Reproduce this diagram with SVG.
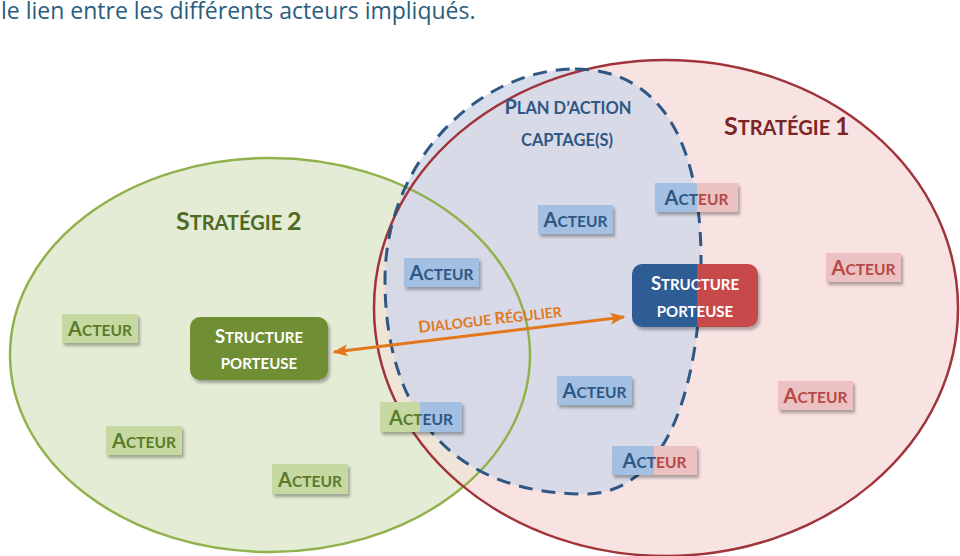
<svg xmlns="http://www.w3.org/2000/svg" width="960" height="556" viewBox="0 0 960 556">
<defs>
<style>
.lbl{font-family:Lato,"Open Sans","Liberation Sans",sans-serif;font-weight:bold;}
.big{font-size:20px}
.sm{font-size:15.5px}
.box{filter:url(#sh)}
.tb{fill:#2f5783}.tg{fill:#5b7b2c}.tr{fill:#b54848}
.fb{fill:#a3bfe2}.fg{fill:#c6d9a2}.fr{fill:#ecc1c1}
</style>
<filter id="sh" x="-20%" y="-20%" width="150%" height="160%">
<feDropShadow dx="2" dy="3" stdDeviation="1.8" flood-color="#000" flood-opacity="0.3"/>
</filter>
<clipPath id="redclip"><ellipse cx="666" cy="308" rx="292" ry="248"/></clipPath>
<path id="plan" d="M575,69 C665,69 701,150 701,260 C701,390 665,494 585,494 C460,494 385,420 385,280 C385,160 480,69 575,69 Z"/>
<marker id="ah" viewBox="0 0 10 10" refX="9" refY="5" markerWidth="5" markerHeight="5" orient="auto-start-reverse" markerUnits="strokeWidth">
<path d="M0,1 L10,5 L0,9 L2,5 Z" fill="#e2781e"/>
</marker>
</defs>
<rect width="960" height="556" fill="#fff"/>
<text x="1" y="19" font-family="'Open Sans','Noto Sans',sans-serif" font-size="23" fill="#2a5d7c">le lien entre les différents acteurs impliqués.</text>

<g id="zones">
<ellipse cx="270" cy="355" rx="260" ry="197" fill="#e4ecd5"/>
<ellipse cx="666" cy="308" rx="292" ry="248" fill="#f8e2e2"/>
<ellipse cx="270" cy="355" rx="260" ry="197" fill="#eee4d7" clip-path="url(#redclip)"/>
<use href="#plan" fill="#d2d8e9" fill-opacity="0.85"/>
<ellipse cx="270" cy="355" rx="260" ry="197" fill="none" stroke="#8fb24c" stroke-width="2.5"/>
<ellipse cx="666" cy="308" rx="292" ry="248" fill="none" stroke="#a0343a" stroke-width="2.5"/>
<use href="#plan" fill="none" stroke="#2f5783" stroke-width="3" stroke-dasharray="14 9"/>
</g>

<g id="titles" class="lbl">
<text x="724" y="135" fill="#7b2626"><tspan style="font-size:25px">S</tspan><tspan style="font-size:20px">TRATÉGIE </tspan><tspan style="font-size:25px">1</tspan></text>
<text x="176" y="230" fill="#4e6b24"><tspan style="font-size:25px">S</tspan><tspan style="font-size:20px">TRATÉGIE </tspan><tspan style="font-size:25px">2</tspan></text>
<text x="568" y="114" text-anchor="middle" fill="#2f5783"><tspan style="font-size:20px">P</tspan><tspan style="font-size:16.5px">LAN D’ACTION</tspan></text>
<text x="567" y="146" text-anchor="middle" fill="#2f5783" style="font-size:16.5px">CAPTAGE(S)</text>
</g>

<g id="connectors">
<line x1="334" y1="352" x2="624" y2="317" stroke="#e2781e" stroke-width="3" marker-start="url(#ah)" marker-end="url(#ah)"/>
<text class="lbl" transform="translate(419,333) rotate(-6.5)" fill="#e2781e"><tspan style="font-size:16.5px">D</tspan><tspan style="font-size:14px">IALOGUE </tspan><tspan style="font-size:16.5px">R</tspan><tspan style="font-size:14px">ÉGULIER</tspan></text>
</g>

<g id="struct-green">
<rect class="box" x="190" y="317" width="138" height="63" rx="10" fill="#6f8f35"/>
<text class="lbl" x="259" y="343" text-anchor="middle" fill="#fff"><tspan style="font-size:18.5px">S</tspan><tspan style="font-size:15px">TRUCTURE</tspan></text>
<text class="lbl" x="259" y="369" text-anchor="middle" fill="#fff" style="font-size:15px">PORTEUSE</text>
</g>

<g id="struct-bluered">
<g class="box">
<path d="M642,264 H697 V327 H642 A10,10 0 0 1 632,317 V274 A10,10 0 0 1 642,264 Z" fill="#2d5b94"/>
<path d="M697,264 H748 A10,10 0 0 1 758,274 V317 A10,10 0 0 1 748,327 H697 Z" fill="#c84a48"/>
</g>
<text class="lbl" x="695" y="290" text-anchor="middle" fill="#fff"><tspan style="font-size:18.5px">S</tspan><tspan style="font-size:15px">TRUCTURE</tspan></text>
<text class="lbl" x="695" y="317" text-anchor="middle" fill="#fff" style="font-size:15px">PORTEUSE</text>
</g>

<g id="acteur-b1"><rect class="box fb" x="538" y="205" width="75" height="29"/><text class="lbl tb" x="575.5" y="227" text-anchor="middle"><tspan class="big">A</tspan><tspan class="sm">CTEUR</tspan></text></g>
<g id="acteur-b2"><rect class="box fb" x="404" y="258" width="75" height="29"/><text class="lbl tb" x="441.5" y="280" text-anchor="middle"><tspan class="big">A</tspan><tspan class="sm">CTEUR</tspan></text></g>
<g id="acteur-b3"><rect class="box fb" x="557" y="376" width="75" height="29"/><text class="lbl tb" x="594.5" y="398" text-anchor="middle"><tspan class="big">A</tspan><tspan class="sm">CTEUR</tspan></text></g>

<g id="acteur-br1"><g class="box"><rect class="fb" x="655" y="183" width="42" height="29"/><rect class="fr" x="697" y="183" width="41" height="29"/></g><text class="lbl" x="696.5" y="205" text-anchor="middle"><tspan class="big tb">A</tspan><tspan class="sm tb">CT</tspan><tspan class="sm tr">EUR</tspan></text></g>
<g id="acteur-gb"><g class="box"><rect class="fg" x="380" y="402" width="40" height="30"/><rect class="fb" x="420" y="402" width="42" height="30"/></g><text class="lbl" x="421" y="425" text-anchor="middle"><tspan class="big tg">A</tspan><tspan class="sm tg">CT</tspan><tspan class="sm tb">EUR</tspan></text></g>
<g id="acteur-br2"><g class="box"><rect class="fb" x="612" y="446" width="42" height="29"/><rect class="fr" x="654" y="446" width="43" height="29"/></g><text class="lbl" x="654.5" y="468" text-anchor="middle"><tspan class="big tb">A</tspan><tspan class="sm tb">CT</tspan><tspan class="sm tr">EUR</tspan></text></g>

<g id="acteur-r1"><rect class="box fr" x="826" y="253" width="75" height="29"/><text class="lbl tr" x="863.5" y="275" text-anchor="middle"><tspan class="big">A</tspan><tspan class="sm">CTEUR</tspan></text></g>
<g id="acteur-r2"><rect class="box fr" x="778" y="381" width="75" height="29"/><text class="lbl tr" x="815.5" y="403" text-anchor="middle"><tspan class="big">A</tspan><tspan class="sm">CTEUR</tspan></text></g>

<g id="acteur-g1"><rect class="box fg" x="62" y="314" width="76" height="29"/><text class="lbl tg" x="100" y="336" text-anchor="middle"><tspan class="big">A</tspan><tspan class="sm">CTEUR</tspan></text></g>
<g id="acteur-g2"><rect class="box fg" x="106" y="426" width="76" height="29"/><text class="lbl tg" x="144" y="448" text-anchor="middle"><tspan class="big">A</tspan><tspan class="sm">CTEUR</tspan></text></g>
<g id="acteur-g3"><rect class="box fg" x="272" y="464" width="76" height="30"/><text class="lbl tg" x="310" y="487" text-anchor="middle"><tspan class="big">A</tspan><tspan class="sm">CTEUR</tspan></text></g>
</svg>
